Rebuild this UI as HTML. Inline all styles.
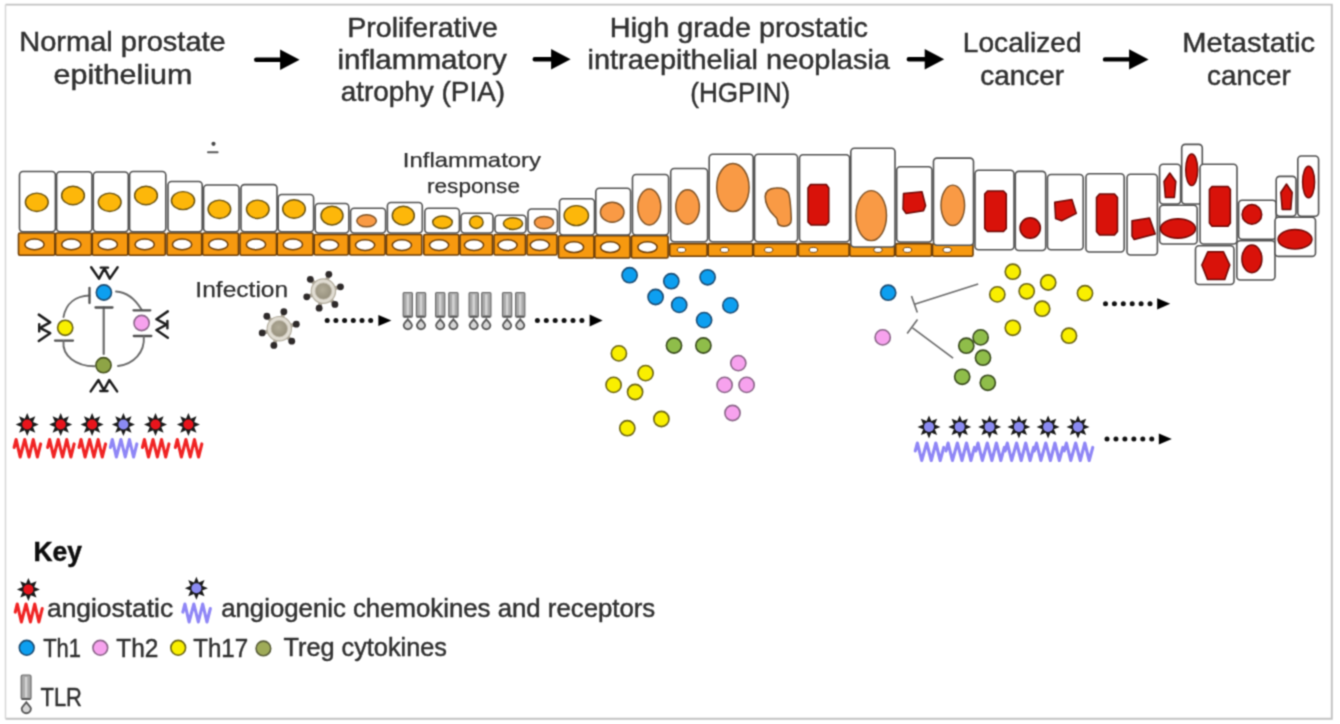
<!DOCTYPE html>
<html><head><meta charset="utf-8"><title>Prostate cancer progression and inflammation</title>
<style>
html,body{margin:0;padding:0;background:#fff;}
body{width:1340px;height:724px;overflow:hidden;}
svg{display:block;font-family:"Liberation Sans",Arial,sans-serif;}
</style></head>
<body>
<svg width="1340" height="724" viewBox="0 0 1340 724">
<defs>
<filter id="soft" x="0" y="0" width="1340" height="724" filterUnits="userSpaceOnUse" color-interpolation-filters="sRGB"><feConvolveMatrix order="3" kernelMatrix="0.04387 0.12171 0.04387 0.12171 0.33767 0.12171 0.04387 0.12171 0.04387" divisor="1" edgeMode="duplicate"/></filter>
<radialGradient id="vg" cx="0.45" cy="0.42" r="0.6"><stop offset="0" stop-color="#b2ac98"/><stop offset="1" stop-color="#958f7c"/></radialGradient>
</defs>
<g filter="url(#soft)">
<rect width="1340" height="724" fill="#fff"/>
<path d="M5.5,4.6 L1331.8,4.6 L1331.8,718.8 L5.5,718.8" fill="none" stroke="#c2c2c2" stroke-width="1.9"/>
<path d="M5.5,4.6 L5.5,718.8" fill="none" stroke="#d6d6d6" stroke-width="1.5"/>
<text x="19.18" y="51.00" font-size="27.2" fill="#303030" stroke="#303030" stroke-width="0.45" textLength="206.60" lengthAdjust="spacingAndGlyphs">Normal prostate</text>
<text x="53.58" y="84.00" font-size="27.2" fill="#303030" stroke="#303030" stroke-width="0.45" textLength="138.79" lengthAdjust="spacingAndGlyphs">epithelium</text>
<text x="347.22" y="36.50" font-size="27.2" fill="#303030" stroke="#303030" stroke-width="0.45" textLength="150.71" lengthAdjust="spacingAndGlyphs">Proliferative</text>
<text x="337.53" y="68.80" font-size="27.2" fill="#303030" stroke="#303030" stroke-width="0.45" textLength="169.38" lengthAdjust="spacingAndGlyphs">inflammatory</text>
<text x="340.78" y="101.00" font-size="27.2" fill="#303030" stroke="#303030" stroke-width="0.45" textLength="164.32" lengthAdjust="spacingAndGlyphs">atrophy (PIA)</text>
<text x="609.89" y="37.00" font-size="27.2" fill="#303030" stroke="#303030" stroke-width="0.45" textLength="258.05" lengthAdjust="spacingAndGlyphs">High grade prostatic</text>
<text x="587.57" y="68.80" font-size="27.2" fill="#303030" stroke="#303030" stroke-width="0.45" textLength="302.37" lengthAdjust="spacingAndGlyphs">intraepithelial neoplasia</text>
<text x="690.23" y="101.80" font-size="27.2" fill="#303030" stroke="#303030" stroke-width="0.45" textLength="100.01" lengthAdjust="spacingAndGlyphs">(HGPIN)</text>
<text x="962.85" y="51.90" font-size="27.2" fill="#303030" stroke="#303030" stroke-width="0.45" textLength="118.68" lengthAdjust="spacingAndGlyphs">Localized</text>
<text x="980.18" y="85.20" font-size="27.2" fill="#303030" stroke="#303030" stroke-width="0.45" textLength="83.92" lengthAdjust="spacingAndGlyphs">cancer</text>
<text x="1182.37" y="51.90" font-size="27.2" fill="#303030" stroke="#303030" stroke-width="0.45" textLength="132.62" lengthAdjust="spacingAndGlyphs">Metastatic</text>
<text x="1207.09" y="85.00" font-size="27.2" fill="#303030" stroke="#303030" stroke-width="0.45" textLength="83.61" lengthAdjust="spacingAndGlyphs">cancer</text>
<path d="M256.2,57.599999999999994 L280.1,57.599999999999994 L280.1,49.599999999999994 L299.6,59.8 L280.1,70.0 L280.1,62.0 L256.2,62.0 A2.2,2.2 0 0 1 256.2,57.599999999999994 Z" fill="#000"/>
<path d="M534.7,57.099999999999994 L551.1,57.099999999999994 L551.1,49.099999999999994 L570.6,59.3 L551.1,69.5 L551.1,61.5 L534.7,61.5 A2.2,2.2 0 0 1 534.7,57.099999999999994 Z" fill="#000"/>
<path d="M908.8000000000001,57.099999999999994 L924.7,57.099999999999994 L924.7,49.099999999999994 L944.2,59.3 L924.7,69.5 L924.7,61.5 L908.8000000000001,61.5 A2.2,2.2 0 0 1 908.8000000000001,57.099999999999994 Z" fill="#000"/>
<path d="M1105.0,57.199999999999996 L1129.1,57.199999999999996 L1129.1,49.2 L1148.6,59.4 L1129.1,69.6 L1129.1,61.6 L1105.0,61.6 A2.2,2.2 0 0 1 1105.0,57.199999999999996 Z" fill="#000"/>
<rect x="18.5" y="233.0" width="36.4" height="22.2" rx="1.5" fill="#f7990f" stroke="#6e3f08" stroke-width="1.6"/>
<ellipse cx="34.5" cy="244.4" rx="9.6" ry="5.4" fill="#fff" stroke="#6e3f08" stroke-width="1.5"/>
<rect x="55.6" y="233.0" width="35.9" height="22.2" rx="1.5" fill="#f7990f" stroke="#6e3f08" stroke-width="1.6"/>
<ellipse cx="71.3" cy="244.4" rx="9.6" ry="5.4" fill="#fff" stroke="#6e3f08" stroke-width="1.5"/>
<rect x="92.3" y="233.0" width="35.5" height="22.2" rx="1.5" fill="#f7990f" stroke="#6e3f08" stroke-width="1.6"/>
<ellipse cx="107.8" cy="244.4" rx="9.6" ry="5.4" fill="#fff" stroke="#6e3f08" stroke-width="1.5"/>
<rect x="128.6" y="233.0" width="36.7" height="22.2" rx="1.5" fill="#f7990f" stroke="#6e3f08" stroke-width="1.6"/>
<ellipse cx="144.7" cy="244.4" rx="9.6" ry="5.4" fill="#fff" stroke="#6e3f08" stroke-width="1.5"/>
<rect x="167.0" y="233.0" width="34.7" height="22.2" rx="1.5" fill="#f7990f" stroke="#6e3f08" stroke-width="1.6"/>
<ellipse cx="182.1" cy="244.4" rx="9.6" ry="5.4" fill="#fff" stroke="#6e3f08" stroke-width="1.5"/>
<rect x="202.6" y="233.0" width="35.9" height="22.2" rx="1.5" fill="#f7990f" stroke="#6e3f08" stroke-width="1.6"/>
<ellipse cx="218.3" cy="244.4" rx="9.6" ry="5.4" fill="#fff" stroke="#6e3f08" stroke-width="1.5"/>
<rect x="240.0" y="233.0" width="36.5" height="22.2" rx="1.5" fill="#f7990f" stroke="#6e3f08" stroke-width="1.6"/>
<ellipse cx="256.0" cy="244.4" rx="9.6" ry="5.4" fill="#fff" stroke="#6e3f08" stroke-width="1.5"/>
<rect x="277.2" y="233.0" width="35.9" height="22.2" rx="1.5" fill="#f7990f" stroke="#6e3f08" stroke-width="1.6"/>
<ellipse cx="292.9" cy="244.4" rx="9.6" ry="5.4" fill="#fff" stroke="#6e3f08" stroke-width="1.5"/>
<rect x="314.2" y="234.5" width="34.1" height="20.5" rx="1.5" fill="#f7990f" stroke="#6e3f08" stroke-width="1.6"/>
<ellipse cx="329.0" cy="245.1" rx="9.6" ry="5.4" fill="#fff" stroke="#6e3f08" stroke-width="1.5"/>
<rect x="349.6" y="234.5" width="35.5" height="20.5" rx="1.5" fill="#f7990f" stroke="#6e3f08" stroke-width="1.6"/>
<ellipse cx="365.1" cy="245.1" rx="9.6" ry="5.4" fill="#fff" stroke="#6e3f08" stroke-width="1.5"/>
<rect x="386.4" y="234.5" width="35.4" height="20.5" rx="1.5" fill="#f7990f" stroke="#6e3f08" stroke-width="1.6"/>
<ellipse cx="401.9" cy="245.1" rx="9.6" ry="5.4" fill="#fff" stroke="#6e3f08" stroke-width="1.5"/>
<rect x="423.8" y="234.5" width="35.1" height="20.5" rx="1.5" fill="#f7990f" stroke="#6e3f08" stroke-width="1.6"/>
<ellipse cx="439.1" cy="245.1" rx="9.6" ry="5.4" fill="#fff" stroke="#6e3f08" stroke-width="1.5"/>
<rect x="460.0" y="234.5" width="32.5" height="20.5" rx="1.5" fill="#f7990f" stroke="#6e3f08" stroke-width="1.6"/>
<ellipse cx="474.0" cy="245.1" rx="9.6" ry="5.4" fill="#fff" stroke="#6e3f08" stroke-width="1.5"/>
<rect x="494.0" y="234.5" width="31.5" height="20.5" rx="1.5" fill="#f7990f" stroke="#6e3f08" stroke-width="1.6"/>
<ellipse cx="507.5" cy="245.1" rx="9.6" ry="5.4" fill="#fff" stroke="#6e3f08" stroke-width="1.5"/>
<rect x="527.0" y="234.5" width="30.0" height="20.5" rx="1.5" fill="#f7990f" stroke="#6e3f08" stroke-width="1.6"/>
<ellipse cx="539.8" cy="245.1" rx="9.6" ry="5.4" fill="#fff" stroke="#6e3f08" stroke-width="1.5"/>
<rect x="558.5" y="235.8" width="35.5" height="22.2" rx="1.5" fill="#f7990f" stroke="#6e3f08" stroke-width="1.6"/>
<ellipse cx="574.0" cy="247.2" rx="9.6" ry="5.4" fill="#fff" stroke="#6e3f08" stroke-width="1.5"/>
<rect x="594.8" y="235.8" width="35.3" height="22.2" rx="1.5" fill="#f7990f" stroke="#6e3f08" stroke-width="1.6"/>
<ellipse cx="610.2" cy="247.2" rx="9.6" ry="5.4" fill="#fff" stroke="#6e3f08" stroke-width="1.5"/>
<rect x="631.5" y="235.8" width="36.6" height="22.2" rx="1.5" fill="#f7990f" stroke="#6e3f08" stroke-width="1.6"/>
<ellipse cx="647.5" cy="247.2" rx="9.6" ry="5.4" fill="#fff" stroke="#6e3f08" stroke-width="1.5"/>
<rect x="669.7" y="243.6" width="37.4" height="12.7" rx="1.5" fill="#f7990f" stroke="#6e3f08" stroke-width="1.6"/>
<ellipse cx="681.5" cy="249.9" rx="4.2" ry="2.5" fill="#fff" stroke="#6e3f08" stroke-width="1"/>
<rect x="708.2" y="243.6" width="44.5" height="12.7" rx="1.5" fill="#f7990f" stroke="#6e3f08" stroke-width="1.6"/>
<ellipse cx="724.5" cy="249.9" rx="4.2" ry="2.5" fill="#fff" stroke="#6e3f08" stroke-width="1"/>
<rect x="753.6" y="243.6" width="43.5" height="12.7" rx="1.5" fill="#f7990f" stroke="#6e3f08" stroke-width="1.6"/>
<ellipse cx="768.7" cy="249.9" rx="4.2" ry="2.5" fill="#fff" stroke="#6e3f08" stroke-width="1"/>
<rect x="798.5" y="243.6" width="50.6" height="12.7" rx="1.5" fill="#f7990f" stroke="#6e3f08" stroke-width="1.6"/>
<ellipse cx="813.4" cy="249.9" rx="4.2" ry="2.5" fill="#fff" stroke="#6e3f08" stroke-width="1"/>
<rect x="849.8" y="243.6" width="44.7" height="12.7" rx="1.5" fill="#f7990f" stroke="#6e3f08" stroke-width="1.6"/>
<ellipse cx="878.0" cy="249.9" rx="4.2" ry="2.5" fill="#fff" stroke="#6e3f08" stroke-width="1"/>
<rect x="895.7" y="243.6" width="35.8" height="12.7" rx="1.5" fill="#f7990f" stroke="#6e3f08" stroke-width="1.6"/>
<ellipse cx="907.4" cy="249.9" rx="4.2" ry="2.5" fill="#fff" stroke="#6e3f08" stroke-width="1"/>
<rect x="932.5" y="243.6" width="40.5" height="12.7" rx="1.5" fill="#f7990f" stroke="#6e3f08" stroke-width="1.6"/>
<ellipse cx="947.2" cy="249.9" rx="4.2" ry="2.5" fill="#fff" stroke="#6e3f08" stroke-width="1"/>
<rect x="19.5" y="171.5" width="35.9" height="60.2" rx="3.5" fill="#fff" stroke="#525252" stroke-width="1.6"/>
<ellipse cx="36.8" cy="202.3" rx="11.4" ry="9.2" fill="#fdb70a" stroke="#6a520e" stroke-width="1.45"/>
<rect x="56.6" y="171.8" width="35.4" height="59.9" rx="3.5" fill="#fff" stroke="#525252" stroke-width="1.6"/>
<ellipse cx="73.0" cy="195.5" rx="11.4" ry="9.2" fill="#fdb70a" stroke="#6a520e" stroke-width="1.45"/>
<rect x="93.3" y="172.0" width="35.0" height="59.7" rx="3.5" fill="#fff" stroke="#525252" stroke-width="1.6"/>
<ellipse cx="109.7" cy="202.3" rx="11.4" ry="9.2" fill="#fdb70a" stroke="#6a520e" stroke-width="1.45"/>
<rect x="129.6" y="171.5" width="36.2" height="60.2" rx="3.5" fill="#fff" stroke="#525252" stroke-width="1.6"/>
<ellipse cx="146.0" cy="195.5" rx="11.4" ry="9.2" fill="#fdb70a" stroke="#6a520e" stroke-width="1.45"/>
<rect x="168.0" y="181.5" width="34.2" height="50.2" rx="3.5" fill="#fff" stroke="#525252" stroke-width="1.6"/>
<ellipse cx="183.0" cy="200.6" rx="11.6" ry="9.0" fill="#fdb70a" stroke="#6a520e" stroke-width="1.45"/>
<rect x="203.6" y="185.0" width="35.4" height="46.7" rx="3.5" fill="#fff" stroke="#525252" stroke-width="1.6"/>
<ellipse cx="219.4" cy="209.3" rx="11.3" ry="9.2" fill="#fdb70a" stroke="#6a520e" stroke-width="1.45"/>
<rect x="241.0" y="184.6" width="36.0" height="47.1" rx="3.5" fill="#fff" stroke="#525252" stroke-width="1.6"/>
<ellipse cx="257.8" cy="209.3" rx="11.3" ry="9.2" fill="#fdb70a" stroke="#6a520e" stroke-width="1.45"/>
<rect x="278.2" y="194.5" width="35.4" height="37.2" rx="3.5" fill="#fff" stroke="#525252" stroke-width="1.6"/>
<ellipse cx="294.0" cy="209.0" rx="11.3" ry="9.2" fill="#fdb70a" stroke="#6a520e" stroke-width="1.45"/>
<rect x="315.2" y="203.5" width="33.6" height="29.5" rx="3.5" fill="#fff" stroke="#525252" stroke-width="1.6"/>
<ellipse cx="332.0" cy="215.6" rx="11.0" ry="9.3" fill="#fdb70a" stroke="#6a520e" stroke-width="1.45"/>
<rect x="350.6" y="208.2" width="35.0" height="24.8" rx="3.5" fill="#fff" stroke="#525252" stroke-width="1.6"/>
<ellipse cx="366.6" cy="220.8" rx="9.8" ry="6.0" fill="#f99a45" stroke="#7e5226" stroke-width="1.45"/>
<rect x="387.4" y="202.5" width="34.9" height="30.5" rx="3.5" fill="#fff" stroke="#525252" stroke-width="1.6"/>
<ellipse cx="403.3" cy="215.6" rx="11.0" ry="9.3" fill="#fdb70a" stroke="#6a520e" stroke-width="1.45"/>
<rect x="424.8" y="208.2" width="34.6" height="24.8" rx="3.5" fill="#fff" stroke="#525252" stroke-width="1.6"/>
<ellipse cx="442.5" cy="222.2" rx="9.8" ry="6.2" fill="#fdb70a" stroke="#6a520e" stroke-width="1.45"/>
<rect x="461.0" y="213.2" width="32.0" height="19.8" rx="3.5" fill="#fff" stroke="#525252" stroke-width="1.6"/>
<ellipse cx="476.3" cy="222.2" rx="6.8" ry="6.2" fill="#fdb70a" stroke="#6a520e" stroke-width="1.45"/>
<rect x="495.0" y="215.3" width="31.0" height="17.7" rx="3.5" fill="#fff" stroke="#525252" stroke-width="1.6"/>
<ellipse cx="513.0" cy="223.6" rx="9.6" ry="5.8" fill="#fdb70a" stroke="#6a520e" stroke-width="1.45"/>
<rect x="528.0" y="209.0" width="29.5" height="24.0" rx="3.5" fill="#fff" stroke="#525252" stroke-width="1.6"/>
<ellipse cx="544.0" cy="222.6" rx="9.6" ry="6.2" fill="#f99a45" stroke="#7e5226" stroke-width="1.45"/>
<rect x="559.5" y="198.7" width="35.0" height="36.3" rx="3.5" fill="#fff" stroke="#525252" stroke-width="1.6"/>
<ellipse cx="576.3" cy="215.6" rx="12.2" ry="10.0" fill="#fdb70a" stroke="#6a520e" stroke-width="1.45"/>
<rect x="595.8" y="188.3" width="34.8" height="46.7" rx="3.5" fill="#fff" stroke="#525252" stroke-width="1.6"/>
<ellipse cx="612.2" cy="212.2" rx="11.8" ry="10.0" fill="#f99a45" stroke="#7e5226" stroke-width="1.45"/>
<rect x="632.5" y="174.5" width="36.1" height="60.5" rx="3.5" fill="#fff" stroke="#525252" stroke-width="1.6"/>
<ellipse cx="649.3" cy="207.0" rx="11.5" ry="18.0" fill="#f99a45" stroke="#7e5226" stroke-width="1.45"/>
<rect x="670.7" y="168.5" width="36.9" height="73.3" rx="3.5" fill="#fff" stroke="#525252" stroke-width="1.6"/>
<ellipse cx="687.6" cy="207.0" rx="11.8" ry="17.2" fill="#f99a45" stroke="#7e5226" stroke-width="1.45"/>
<rect x="709.2" y="154.2" width="44.0" height="87.6" rx="3.5" fill="#fff" stroke="#525252" stroke-width="1.6"/>
<ellipse cx="732.9" cy="187.5" rx="16.2" ry="24.0" fill="#f99a45" stroke="#7e5226" stroke-width="1.45"/>
<rect x="754.6" y="154.2" width="43.0" height="87.6" rx="3.5" fill="#fff" stroke="#525252" stroke-width="1.6"/>
<path d="M775.8,188 C781,187.5 786,189 788.4,193 C790.5,198 791,212 791.3,219 C791.5,224 788,226.5 783.5,226.2 C780,226 777.5,224.5 777.5,221.5 C777.5,219 776.5,217.5 774.5,216 C769,211 765,203 765.2,196.5 C765.5,191 770,188.3 775.8,188 Z" fill="#f99a45" stroke="#7e5226" stroke-width="1.5" stroke-linejoin="round"/>
<rect x="799.5" y="154.7" width="50.1" height="87.1" rx="3.5" fill="#fff" stroke="#525252" stroke-width="1.6"/>
<path d="M810.5,184.5 L826.3,184.5 L828.8,188 L828.8,222 L826,225 L811,225 L808,222 L808,188 Z" fill="#d9120a" stroke="#6e0805" stroke-width="1.5" stroke-linejoin="round"/>
<rect x="850.8" y="148.3" width="44.2" height="98.7" rx="3.5" fill="#fff" stroke="#525252" stroke-width="1.6"/>
<ellipse cx="871.2" cy="215.6" rx="15.3" ry="25.0" fill="#f99a45" stroke="#7e5226" stroke-width="1.45"/>
<rect x="896.7" y="166.8" width="35.3" height="75.2" rx="3.5" fill="#fff" stroke="#525252" stroke-width="1.6"/>
<path d="M903.5,193.5 L922,191.8 L925.6,205.6 L923.5,210.8 L906,213.4 L903,209 Z" fill="#d9120a" stroke="#6e0805" stroke-width="1.5" stroke-linejoin="round"/>
<rect x="933.5" y="158.1" width="40.0" height="87.2" rx="3.5" fill="#fff" stroke="#525252" stroke-width="1.6"/>
<ellipse cx="952.8" cy="205.3" rx="11.8" ry="20.2" fill="#f99a45" stroke="#7e5226" stroke-width="1.45"/>
<rect x="975.0" y="170.2" width="39.0" height="79.5" rx="3.5" fill="#fff" stroke="#525252" stroke-width="1.6"/>
<path d="M987.5,191 L1003.5,191 L1006.3,194 L1006.3,228.5 L1003.5,231.5 L987.5,231.5 L984.7,228.5 L984.7,194 Z" fill="#d9120a" stroke="#6e0805" stroke-width="1.5" stroke-linejoin="round"/>
<rect x="1015.3" y="171.4" width="30.4" height="79.1" rx="3.5" fill="#fff" stroke="#525252" stroke-width="1.6"/>
<circle cx="1030.2" cy="228.0" r="10.2" fill="#d9120a" stroke="#6e0805" stroke-width="1.5"/>
<rect x="1047.5" y="174.5" width="35.7" height="75.2" rx="3.5" fill="#fff" stroke="#525252" stroke-width="1.6"/>
<path d="M1054.7,202.2 L1072,199.6 L1076.3,213.4 L1061.6,220.8 L1055.6,218.6 Z" fill="#d9120a" stroke="#6e0805" stroke-width="1.5" stroke-linejoin="round"/>
<rect x="1085.9" y="173.8" width="38.3" height="78.2" rx="3.5" fill="#fff" stroke="#525252" stroke-width="1.6"/>
<path d="M1099.5,194 L1114.5,194 L1117.5,197.5 L1117.5,231.5 L1114.5,235 L1099.5,235 L1096.5,231.5 L1096.5,197.5 Z" fill="#d9120a" stroke="#6e0805" stroke-width="1.5" stroke-linejoin="round"/>
<rect x="1127.0" y="174.2" width="30.4" height="80.8" rx="3.5" fill="#fff" stroke="#525252" stroke-width="1.6"/>
<path d="M1132,220.7 L1149.6,218 L1155.2,234 L1134.2,239.5 L1132,236.2 Z" fill="#d9120a" stroke="#6e0805" stroke-width="1.5" stroke-linejoin="round"/>
<rect x="1159.6" y="164.3" width="21.0" height="39.7" rx="3.5" fill="#fff" stroke="#525252" stroke-width="1.6"/>
<path d="M1169.8,173 L1175.8,181.5 L1174.4,197.5 L1165.4,197.5 L1164,181.5 Z" fill="#d9120a" stroke="#6e0805" stroke-width="1.5" stroke-linejoin="round"/>
<rect x="1181.7" y="144.4" width="20.6" height="59.6" rx="3.5" fill="#fff" stroke="#525252" stroke-width="1.6"/>
<ellipse cx="1191.7" cy="169.8" rx="6.0" ry="15.8" fill="#d9120a" stroke="#6e0805" stroke-width="1.45"/>
<rect x="1159.6" y="205.2" width="37.6" height="38.8" rx="3.5" fill="#fff" stroke="#525252" stroke-width="1.6"/>
<ellipse cx="1178.0" cy="228.5" rx="17.5" ry="9.8" fill="#d9120a" stroke="#6e0805" stroke-width="1.45"/>
<rect x="1200.0" y="164.3" width="37.0" height="79.7" rx="3.5" fill="#fff" stroke="#525252" stroke-width="1.6"/>
<path d="M1212,186.4 L1228,186.4 L1230.4,189.5 L1230.4,223 L1228,226.2 L1212,226.2 L1209.4,223 L1209.4,189.5 Z" fill="#d9120a" stroke="#6e0805" stroke-width="1.5" stroke-linejoin="round"/>
<rect x="1195.5" y="245.8" width="38.5" height="38.7" rx="3.5" fill="#fff" stroke="#525252" stroke-width="1.6"/>
<path d="M1201.8,265 L1207.8,251.8 L1223.5,251.8 L1229.8,265 L1224.8,279.6 L1207.6,279.6 Z" fill="#d9120a" stroke="#6e0805" stroke-width="1.5" stroke-linejoin="round"/>
<rect x="1238.6" y="200.2" width="37.6" height="39.1" rx="3.5" fill="#fff" stroke="#525252" stroke-width="1.6"/>
<circle cx="1251.9" cy="214.4" r="9.8" fill="#d9120a" stroke="#6e0805" stroke-width="1.5"/>
<rect x="1236.8" y="240.8" width="38.2" height="39.2" rx="3.5" fill="#fff" stroke="#525252" stroke-width="1.6"/>
<ellipse cx="1251.9" cy="258.9" rx="10.0" ry="13.8" fill="#d9120a" stroke="#6e0805" stroke-width="1.45"/>
<rect x="1276.2" y="176.4" width="19.8" height="39.8" rx="3.5" fill="#fff" stroke="#525252" stroke-width="1.6"/>
<path d="M1286.5,184 L1292.2,192.5 L1290.8,209.5 L1282.2,209.5 L1280.8,192.5 Z" fill="#d9120a" stroke="#6e0805" stroke-width="1.5" stroke-linejoin="round"/>
<rect x="1297.8" y="156.0" width="20.8" height="60.2" rx="3.5" fill="#fff" stroke="#525252" stroke-width="1.6"/>
<ellipse cx="1308.6" cy="182.0" rx="6.0" ry="15.8" fill="#d9120a" stroke="#6e0805" stroke-width="1.45"/>
<rect x="1275.0" y="217.3" width="40.5" height="39.1" rx="3.5" fill="#fff" stroke="#525252" stroke-width="1.6"/>
<ellipse cx="1295.0" cy="239.3" rx="17.0" ry="9.8" fill="#d9120a" stroke="#6e0805" stroke-width="1.45"/>
<circle cx="213.5" cy="143.8" r="2.1" fill="#4a4a4a"/><rect x="207" y="151.2" width="11.6" height="2.1" rx="1" fill="#5a5a5a"/>
<text x="402.85" y="167.40" font-size="21" fill="#303030" stroke="#303030" stroke-width="0.25" textLength="138.14" lengthAdjust="spacingAndGlyphs">Inflammatory</text>
<text x="427.02" y="192.90" font-size="21" fill="#303030" stroke="#303030" stroke-width="0.25" textLength="92.97" lengthAdjust="spacingAndGlyphs">response</text>
<g fill="none" stroke="#6a6a6a" stroke-width="1.9" stroke-linecap="round">
<path d="M103.7,307.5 L103.7,354" stroke-width="2.2"/>
<path d="M95.5,307.5 L112.5,307.5" stroke="#505050" stroke-width="2.3"/>
<path d="M63.5,317 C66,303 76,296 89.5,295.5"/>
<path d="M89.5,288 L89.5,303" stroke="#505050" stroke-width="2.3"/>
<path d="M116,291.5 C126,292 134,297 141.8,310"/>
<path d="M133.5,310.3 L150.3,310.3" stroke="#505050" stroke-width="2.3"/>
<path d="M55,340.6 L73,340.6" stroke="#505050" stroke-width="2.3"/>
<path d="M63.5,341 C62,356 76,366 94.5,366.3"/>
<path d="M133.8,336 L151.3,336" stroke="#505050" stroke-width="2.3"/>
<path d="M143.8,336.5 C145,352 134,364 118,366"/>
</g>
<circle cx="103.9" cy="292.5" r="7.6" fill="#0d9ff0" stroke="#1b4c74" stroke-width="1.6"/>
<circle cx="65.2" cy="327.8" r="7.6" fill="#f9ef00" stroke="#6c6512" stroke-width="1.6"/>
<circle cx="141.6" cy="323.0" r="7.6" fill="#f7a2ee" stroke="#8a6488" stroke-width="1.6"/>
<circle cx="103.5" cy="365.2" r="7.6" fill="#8ea446" stroke="#46521e" stroke-width="1.6"/>
<g transform="translate(104.4,273.0) rotate(0)" fill="none" stroke="#1e1e1e" stroke-width="2.5" stroke-linejoin="round" stroke-linecap="round"><path d="M-13.2,-5.8 L-5.4,5.6 L0,-4.6 L5.4,5.6 L13.2,-5.8"/><path d="M-3.6,-5.4 L3.6,-5.4" stroke-width="2.4"/></g>
<g transform="translate(103.9,385.6) rotate(180)" fill="none" stroke="#1e1e1e" stroke-width="2.5" stroke-linejoin="round" stroke-linecap="round"><path d="M-13.2,-5.8 L-5.4,5.6 L0,-4.6 L5.4,5.6 L13.2,-5.8"/><path d="M-3.6,-5.4 L3.6,-5.4" stroke-width="2.4"/></g>
<g transform="translate(44.6,327.8) rotate(-90)" fill="none" stroke="#1e1e1e" stroke-width="2.5" stroke-linejoin="round" stroke-linecap="round"><path d="M-13.2,-5.8 L-5.4,5.6 L0,-4.6 L5.4,5.6 L13.2,-5.8"/><path d="M-3.6,-5.4 L3.6,-5.4" stroke-width="2.4"/></g>
<g transform="translate(162.0,324.6) rotate(90)" fill="none" stroke="#1e1e1e" stroke-width="2.5" stroke-linejoin="round" stroke-linecap="round"><path d="M-13.2,-5.8 L-5.4,5.6 L0,-4.6 L5.4,5.6 L13.2,-5.8"/><path d="M-3.6,-5.4 L3.6,-5.4" stroke-width="2.4"/></g>
<polygon points="27.20,413.00 29.61,418.68 35.33,416.37 33.02,422.09 38.70,424.50 33.02,426.91 35.33,432.63 29.61,430.32 27.20,436.00 24.79,430.32 19.07,432.63 21.38,426.91 15.70,424.50 21.38,422.09 19.07,416.37 24.79,418.68" fill="#1a1a1a"/>
<circle cx="27.2" cy="424.5" r="5.00" fill="#e8141c"/>
<path d="M14.15,447.38 L16.15,439.50 L20.15,457.00 L24.75,439.50 L29.05,457.00 L33.25,439.50 L37.35,457.00 L40.65,443.88" fill="none" stroke="#f02424" stroke-width="3.1" stroke-linejoin="round" stroke-linecap="round"/>
<polygon points="60.70,413.00 63.11,418.68 68.83,416.37 66.52,422.09 72.20,424.50 66.52,426.91 68.83,432.63 63.11,430.32 60.70,436.00 58.29,430.32 52.57,432.63 54.88,426.91 49.20,424.50 54.88,422.09 52.57,416.37 58.29,418.68" fill="#1a1a1a"/>
<circle cx="60.7" cy="424.5" r="5.00" fill="#e8141c"/>
<path d="M47.65,447.38 L49.65,439.50 L53.65,457.00 L58.25,439.50 L62.55,457.00 L66.75,439.50 L70.85,457.00 L74.15,443.88" fill="none" stroke="#f02424" stroke-width="3.1" stroke-linejoin="round" stroke-linecap="round"/>
<polygon points="92.10,413.00 94.51,418.68 100.23,416.37 97.92,422.09 103.60,424.50 97.92,426.91 100.23,432.63 94.51,430.32 92.10,436.00 89.69,430.32 83.97,432.63 86.28,426.91 80.60,424.50 86.28,422.09 83.97,416.37 89.69,418.68" fill="#1a1a1a"/>
<circle cx="92.1" cy="424.5" r="5.00" fill="#e8141c"/>
<path d="M79.05,447.38 L81.05,439.50 L85.05,457.00 L89.65,439.50 L93.95,457.00 L98.15,439.50 L102.25,457.00 L105.55,443.88" fill="none" stroke="#f02424" stroke-width="3.1" stroke-linejoin="round" stroke-linecap="round"/>
<polygon points="123.40,413.00 125.81,418.68 131.53,416.37 129.22,422.09 134.90,424.50 129.22,426.91 131.53,432.63 125.81,430.32 123.40,436.00 120.99,430.32 115.27,432.63 117.58,426.91 111.90,424.50 117.58,422.09 115.27,416.37 120.99,418.68" fill="#1a1a1a"/>
<circle cx="123.4" cy="424.5" r="5.00" fill="#8b8bf2"/>
<path d="M110.35,447.38 L112.35,439.50 L116.35,457.00 L120.95,439.50 L125.25,457.00 L129.45,439.50 L133.55,457.00 L136.85,443.88" fill="none" stroke="#8f86f6" stroke-width="3.1" stroke-linejoin="round" stroke-linecap="round"/>
<polygon points="155.50,413.00 157.91,418.68 163.63,416.37 161.32,422.09 167.00,424.50 161.32,426.91 163.63,432.63 157.91,430.32 155.50,436.00 153.09,430.32 147.37,432.63 149.68,426.91 144.00,424.50 149.68,422.09 147.37,416.37 153.09,418.68" fill="#1a1a1a"/>
<circle cx="155.5" cy="424.5" r="5.00" fill="#e8141c"/>
<path d="M142.45,447.38 L144.45,439.50 L148.45,457.00 L153.05,439.50 L157.35,457.00 L161.55,439.50 L165.65,457.00 L168.95,443.88" fill="none" stroke="#f02424" stroke-width="3.1" stroke-linejoin="round" stroke-linecap="round"/>
<polygon points="188.40,413.00 190.81,418.68 196.53,416.37 194.22,422.09 199.90,424.50 194.22,426.91 196.53,432.63 190.81,430.32 188.40,436.00 185.99,430.32 180.27,432.63 182.58,426.91 176.90,424.50 182.58,422.09 180.27,416.37 185.99,418.68" fill="#1a1a1a"/>
<circle cx="188.4" cy="424.5" r="5.00" fill="#e8141c"/>
<path d="M175.35,447.38 L177.35,439.50 L181.35,457.00 L185.95,439.50 L190.25,457.00 L194.45,439.50 L198.55,457.00 L201.85,443.88" fill="none" stroke="#f02424" stroke-width="3.1" stroke-linejoin="round" stroke-linecap="round"/>
<text x="195.39" y="296.70" font-size="22" fill="#303030" stroke="#303030" stroke-width="0.25" textLength="92.79" lengthAdjust="spacingAndGlyphs">Infection</text>
<g>
<line x1="326.80" y1="280.64" x2="328.84" y2="274.36" stroke="#a39d90" stroke-width="3.8"/>
<circle cx="328.84" cy="274.36" r="3.4" fill="#2e2a2a"/>
<line x1="334.07" y1="288.44" x2="340.48" y2="286.84" stroke="#a39d90" stroke-width="3.8"/>
<circle cx="340.48" cy="286.84" r="3.4" fill="#2e2a2a"/>
<line x1="330.62" y1="299.40" x2="334.95" y2="304.38" stroke="#a39d90" stroke-width="3.8"/>
<circle cx="334.95" cy="304.38" r="3.4" fill="#2e2a2a"/>
<line x1="320.74" y1="301.77" x2="319.14" y2="308.18" stroke="#a39d90" stroke-width="3.8"/>
<circle cx="319.14" cy="308.18" r="3.4" fill="#2e2a2a"/>
<line x1="313.00" y1="294.68" x2="306.76" y2="296.83" stroke="#a39d90" stroke-width="3.8"/>
<circle cx="306.76" cy="296.83" r="3.4" fill="#2e2a2a"/>
<line x1="315.23" y1="283.74" x2="310.32" y2="279.32" stroke="#a39d90" stroke-width="3.8"/>
<circle cx="310.32" cy="279.32" r="3.4" fill="#2e2a2a"/>
<circle cx="323.4" cy="291.1" r="12.2" fill="#e0dcd2" stroke="#b4ae9f" stroke-width="1.2"/>
<circle cx="323.4" cy="291.1" r="8.2" fill="url(#vg)" stroke="#bfb9aa" stroke-width="0.8"/>
</g>
<g>
<line x1="282.15" y1="318.07" x2="283.86" y2="311.70" stroke="#a39d90" stroke-width="3.8"/>
<circle cx="283.86" cy="311.70" r="3.4" fill="#2e2a2a"/>
<line x1="289.93" y1="325.85" x2="296.30" y2="324.14" stroke="#a39d90" stroke-width="3.8"/>
<circle cx="296.30" cy="324.14" r="3.4" fill="#2e2a2a"/>
<line x1="287.08" y1="336.48" x2="291.75" y2="341.15" stroke="#a39d90" stroke-width="3.8"/>
<circle cx="291.75" cy="341.15" r="3.4" fill="#2e2a2a"/>
<line x1="275.90" y1="339.16" x2="273.86" y2="345.44" stroke="#a39d90" stroke-width="3.8"/>
<circle cx="273.86" cy="345.44" r="3.4" fill="#2e2a2a"/>
<line x1="268.63" y1="331.36" x2="262.22" y2="332.96" stroke="#a39d90" stroke-width="3.8"/>
<circle cx="262.22" cy="332.96" r="3.4" fill="#2e2a2a"/>
<line x1="271.52" y1="320.92" x2="266.85" y2="316.25" stroke="#a39d90" stroke-width="3.8"/>
<circle cx="266.85" cy="316.25" r="3.4" fill="#2e2a2a"/>
<circle cx="279.3" cy="328.7" r="12.2" fill="#e0dcd2" stroke="#b4ae9f" stroke-width="1.2"/>
<circle cx="279.3" cy="328.7" r="8.2" fill="url(#vg)" stroke="#bfb9aa" stroke-width="0.8"/>
</g>
<circle cx="327.20" cy="320.5" r="2.5" fill="#111"/>
<circle cx="335.90" cy="320.5" r="2.5" fill="#111"/>
<circle cx="344.60" cy="320.5" r="2.5" fill="#111"/>
<circle cx="353.30" cy="320.5" r="2.5" fill="#111"/>
<circle cx="362.00" cy="320.5" r="2.5" fill="#111"/>
<circle cx="370.70" cy="320.5" r="2.5" fill="#111"/>
<path d="M378.4,314.9 L391.4,320.5 L378.4,326.1 Z" fill="#000"/>
<rect x="403.2" y="292.5" width="9.2" height="24.6" rx="1" fill="#a9a9a9" stroke="#6a6a6a" stroke-width="1.2"/>
<rect x="406.50" y="294.5" width="2.6" height="20.6" fill="#d2d2d2"/>
<path d="M407.80,319.20 C409.40,321.60 411.90,323.60 411.90,325.10 A4.1,4.1 0 0 1 403.70,325.10 C403.70,323.60 406.20,321.60 407.80,319.20 Z" fill="#d6d6d6" stroke="#5a5a5a" stroke-width="1.9"/>
<path d="M404.00,316.50 L411.60,316.50" stroke="#555" stroke-width="1.6"/>
<rect x="416.4" y="292.5" width="9.2" height="24.6" rx="1" fill="#a9a9a9" stroke="#6a6a6a" stroke-width="1.2"/>
<rect x="419.70" y="294.5" width="2.6" height="20.6" fill="#d2d2d2"/>
<path d="M421.00,319.20 C422.60,321.60 425.10,323.60 425.10,325.10 A4.1,4.1 0 0 1 416.90,325.10 C416.90,323.60 419.40,321.60 421.00,319.20 Z" fill="#d6d6d6" stroke="#5a5a5a" stroke-width="1.9"/>
<path d="M417.20,316.50 L424.80,316.50" stroke="#555" stroke-width="1.6"/>
<rect x="435.6" y="292.5" width="9.2" height="24.6" rx="1" fill="#a9a9a9" stroke="#6a6a6a" stroke-width="1.2"/>
<rect x="438.90" y="294.5" width="2.6" height="20.6" fill="#d2d2d2"/>
<path d="M440.20,319.20 C441.80,321.60 444.30,323.60 444.30,325.10 A4.1,4.1 0 0 1 436.10,325.10 C436.10,323.60 438.60,321.60 440.20,319.20 Z" fill="#d6d6d6" stroke="#5a5a5a" stroke-width="1.9"/>
<path d="M436.40,316.50 L444.00,316.50" stroke="#555" stroke-width="1.6"/>
<rect x="448.8" y="292.5" width="9.2" height="24.6" rx="1" fill="#a9a9a9" stroke="#6a6a6a" stroke-width="1.2"/>
<rect x="452.10" y="294.5" width="2.6" height="20.6" fill="#d2d2d2"/>
<path d="M453.40,319.20 C455.00,321.60 457.50,323.60 457.50,325.10 A4.1,4.1 0 0 1 449.30,325.10 C449.30,323.60 451.80,321.60 453.40,319.20 Z" fill="#d6d6d6" stroke="#5a5a5a" stroke-width="1.9"/>
<path d="M449.60,316.50 L457.20,316.50" stroke="#555" stroke-width="1.6"/>
<rect x="469.1" y="292.5" width="9.2" height="24.6" rx="1" fill="#a9a9a9" stroke="#6a6a6a" stroke-width="1.2"/>
<rect x="472.40" y="294.5" width="2.6" height="20.6" fill="#d2d2d2"/>
<path d="M473.70,319.20 C475.30,321.60 477.80,323.60 477.80,325.10 A4.1,4.1 0 0 1 469.60,325.10 C469.60,323.60 472.10,321.60 473.70,319.20 Z" fill="#d6d6d6" stroke="#5a5a5a" stroke-width="1.9"/>
<path d="M469.90,316.50 L477.50,316.50" stroke="#555" stroke-width="1.6"/>
<rect x="481.7" y="292.5" width="9.2" height="24.6" rx="1" fill="#a9a9a9" stroke="#6a6a6a" stroke-width="1.2"/>
<rect x="485.00" y="294.5" width="2.6" height="20.6" fill="#d2d2d2"/>
<path d="M486.30,319.20 C487.90,321.60 490.40,323.60 490.40,325.10 A4.1,4.1 0 0 1 482.20,325.10 C482.20,323.60 484.70,321.60 486.30,319.20 Z" fill="#d6d6d6" stroke="#5a5a5a" stroke-width="1.9"/>
<path d="M482.50,316.50 L490.10,316.50" stroke="#555" stroke-width="1.6"/>
<rect x="502.5" y="292.5" width="9.2" height="24.6" rx="1" fill="#a9a9a9" stroke="#6a6a6a" stroke-width="1.2"/>
<rect x="505.80" y="294.5" width="2.6" height="20.6" fill="#d2d2d2"/>
<path d="M507.10,319.20 C508.70,321.60 511.20,323.60 511.20,325.10 A4.1,4.1 0 0 1 503.00,325.10 C503.00,323.60 505.50,321.60 507.10,319.20 Z" fill="#d6d6d6" stroke="#5a5a5a" stroke-width="1.9"/>
<path d="M503.30,316.50 L510.90,316.50" stroke="#555" stroke-width="1.6"/>
<rect x="515.6" y="292.5" width="9.2" height="24.6" rx="1" fill="#a9a9a9" stroke="#6a6a6a" stroke-width="1.2"/>
<rect x="518.90" y="294.5" width="2.6" height="20.6" fill="#d2d2d2"/>
<path d="M520.20,319.20 C521.80,321.60 524.30,323.60 524.30,325.10 A4.1,4.1 0 0 1 516.10,325.10 C516.10,323.60 518.60,321.60 520.20,319.20 Z" fill="#d6d6d6" stroke="#5a5a5a" stroke-width="1.9"/>
<path d="M516.40,316.50 L524.00,316.50" stroke="#555" stroke-width="1.6"/>
<circle cx="537.40" cy="320.5" r="2.5" fill="#111"/>
<circle cx="546.30" cy="320.5" r="2.5" fill="#111"/>
<circle cx="555.20" cy="320.5" r="2.5" fill="#111"/>
<circle cx="564.10" cy="320.5" r="2.5" fill="#111"/>
<circle cx="573.00" cy="320.5" r="2.5" fill="#111"/>
<circle cx="581.90" cy="320.5" r="2.5" fill="#111"/>
<path d="M589.6,314.5 L602.6,320.5 L589.6,326.5 Z" fill="#000"/>
<circle cx="629.6" cy="275.2" r="7.6" fill="#0d9ff0" stroke="#1b4c74" stroke-width="1.6"/>
<circle cx="671.3" cy="281.2" r="7.6" fill="#0d9ff0" stroke="#1b4c74" stroke-width="1.6"/>
<circle cx="707.6" cy="277.3" r="7.6" fill="#0d9ff0" stroke="#1b4c74" stroke-width="1.6"/>
<circle cx="655.6" cy="297" r="7.6" fill="#0d9ff0" stroke="#1b4c74" stroke-width="1.6"/>
<circle cx="679.2" cy="304.9" r="7.6" fill="#0d9ff0" stroke="#1b4c74" stroke-width="1.6"/>
<circle cx="730.4" cy="305.4" r="7.6" fill="#0d9ff0" stroke="#1b4c74" stroke-width="1.6"/>
<circle cx="704.1" cy="320.1" r="7.6" fill="#0d9ff0" stroke="#1b4c74" stroke-width="1.6"/>
<circle cx="674" cy="345.5" r="7.6" fill="#8fbd4a" stroke="#3a4c1e" stroke-width="1.6"/>
<circle cx="703.4" cy="345.5" r="7.6" fill="#8fbd4a" stroke="#3a4c1e" stroke-width="1.6"/>
<circle cx="618.9" cy="353.4" r="7.6" fill="#f9ef00" stroke="#6c6512" stroke-width="1.6"/>
<circle cx="645.6" cy="373.1" r="7.6" fill="#f9ef00" stroke="#6c6512" stroke-width="1.6"/>
<circle cx="613.6" cy="384.9" r="7.6" fill="#f9ef00" stroke="#6c6512" stroke-width="1.6"/>
<circle cx="635.1" cy="392" r="7.6" fill="#f9ef00" stroke="#6c6512" stroke-width="1.6"/>
<circle cx="661.4" cy="419" r="7.6" fill="#f9ef00" stroke="#6c6512" stroke-width="1.6"/>
<circle cx="627.3" cy="428.2" r="7.6" fill="#f9ef00" stroke="#6c6512" stroke-width="1.6"/>
<circle cx="738.3" cy="363.1" r="7.6" fill="#f7a2ee" stroke="#8a6488" stroke-width="1.6"/>
<circle cx="724.6" cy="384.9" r="7.6" fill="#f7a2ee" stroke="#8a6488" stroke-width="1.6"/>
<circle cx="746.6" cy="384.9" r="7.6" fill="#f7a2ee" stroke="#8a6488" stroke-width="1.6"/>
<circle cx="732.5" cy="413" r="7.6" fill="#f7a2ee" stroke="#8a6488" stroke-width="1.6"/>
<circle cx="888.2" cy="292.7" r="7.6" fill="#0d9ff0" stroke="#1b4c74" stroke-width="1.6"/>
<circle cx="882.7" cy="337.4" r="7.6" fill="#f7a2ee" stroke="#8a6488" stroke-width="1.6"/>
<g stroke="#6a6a6a" stroke-width="1.6" fill="none">
<path d="M978.2,284.1 L914.5,304.2"/><path d="M911.5,296 L917.3,312.4"/>
<path d="M953.1,358.2 L912.5,327.8"/><path d="M917.5,319.5 L907.2,333.5"/>
</g>
<circle cx="1012.8" cy="271.7" r="7.6" fill="#f9ef00" stroke="#6c6512" stroke-width="1.6"/>
<circle cx="1048.2" cy="282.5" r="7.6" fill="#f9ef00" stroke="#6c6512" stroke-width="1.6"/>
<circle cx="997.3" cy="294.4" r="7.6" fill="#f9ef00" stroke="#6c6512" stroke-width="1.6"/>
<circle cx="1026.7" cy="291.3" r="7.6" fill="#f9ef00" stroke="#6c6512" stroke-width="1.6"/>
<circle cx="1085" cy="293.2" r="7.6" fill="#f9ef00" stroke="#6c6512" stroke-width="1.6"/>
<circle cx="1042.2" cy="308.7" r="7.6" fill="#f9ef00" stroke="#6c6512" stroke-width="1.6"/>
<circle cx="1012.8" cy="327.8" r="7.6" fill="#f9ef00" stroke="#6c6512" stroke-width="1.6"/>
<circle cx="1069" cy="335.7" r="7.6" fill="#f9ef00" stroke="#6c6512" stroke-width="1.6"/>
<circle cx="980.6" cy="337.4" r="7.6" fill="#8fbd4a" stroke="#3a4c1e" stroke-width="1.6"/>
<circle cx="966.3" cy="345.7" r="7.6" fill="#8fbd4a" stroke="#3a4c1e" stroke-width="1.6"/>
<circle cx="983" cy="357.7" r="7.6" fill="#8fbd4a" stroke="#3a4c1e" stroke-width="1.6"/>
<circle cx="962.2" cy="376.8" r="7.6" fill="#8fbd4a" stroke="#3a4c1e" stroke-width="1.6"/>
<circle cx="987.8" cy="382.8" r="7.6" fill="#8fbd4a" stroke="#3a4c1e" stroke-width="1.6"/>
<circle cx="1105.50" cy="303.8" r="2.5" fill="#111"/>
<circle cx="1114.40" cy="303.8" r="2.5" fill="#111"/>
<circle cx="1123.30" cy="303.8" r="2.5" fill="#111"/>
<circle cx="1132.20" cy="303.8" r="2.5" fill="#111"/>
<circle cx="1141.10" cy="303.8" r="2.5" fill="#111"/>
<circle cx="1150.00" cy="303.8" r="2.5" fill="#111"/>
<path d="M1157.2,298.2 L1170.2,303.8 L1157.2,309.40000000000003 Z" fill="#000"/>
<polygon points="929.00,415.40 931.41,421.08 937.13,418.77 934.82,424.49 940.50,426.90 934.82,429.31 937.13,435.03 931.41,432.72 929.00,438.40 926.59,432.72 920.87,435.03 923.18,429.31 917.50,426.90 923.18,424.49 920.87,418.77 926.59,421.08" fill="#1a1a1a"/>
<circle cx="929" cy="426.9" r="5.00" fill="#8b8bf2"/>
<path d="M915.27,450.88 L917.42,443.00 L921.72,460.50 L926.67,443.00 L931.29,460.50 L935.81,443.00 L940.22,460.50 L943.77,447.38" fill="none" stroke="#8f86f6" stroke-width="3.1" stroke-linejoin="round" stroke-linecap="round"/>
<polygon points="959.70,415.40 962.11,421.08 967.83,418.77 965.52,424.49 971.20,426.90 965.52,429.31 967.83,435.03 962.11,432.72 959.70,438.40 957.29,432.72 951.57,435.03 953.88,429.31 948.20,426.90 953.88,424.49 951.57,418.77 957.29,421.08" fill="#1a1a1a"/>
<circle cx="959.7" cy="426.9" r="5.00" fill="#8b8bf2"/>
<path d="M945.97,450.88 L948.12,443.00 L952.42,460.50 L957.37,443.00 L961.99,460.50 L966.51,443.00 L970.92,460.50 L974.47,447.38" fill="none" stroke="#8f86f6" stroke-width="3.1" stroke-linejoin="round" stroke-linecap="round"/>
<polygon points="989.60,415.40 992.01,421.08 997.73,418.77 995.42,424.49 1001.10,426.90 995.42,429.31 997.73,435.03 992.01,432.72 989.60,438.40 987.19,432.72 981.47,435.03 983.78,429.31 978.10,426.90 983.78,424.49 981.47,418.77 987.19,421.08" fill="#1a1a1a"/>
<circle cx="989.6" cy="426.9" r="5.00" fill="#8b8bf2"/>
<path d="M975.87,450.88 L978.02,443.00 L982.32,460.50 L987.27,443.00 L991.89,460.50 L996.41,443.00 L1000.82,460.50 L1004.37,447.38" fill="none" stroke="#8f86f6" stroke-width="3.1" stroke-linejoin="round" stroke-linecap="round"/>
<polygon points="1018.90,415.40 1021.31,421.08 1027.03,418.77 1024.72,424.49 1030.40,426.90 1024.72,429.31 1027.03,435.03 1021.31,432.72 1018.90,438.40 1016.49,432.72 1010.77,435.03 1013.08,429.31 1007.40,426.90 1013.08,424.49 1010.77,418.77 1016.49,421.08" fill="#1a1a1a"/>
<circle cx="1018.9" cy="426.9" r="5.00" fill="#8b8bf2"/>
<path d="M1005.17,450.88 L1007.32,443.00 L1011.62,460.50 L1016.57,443.00 L1021.19,460.50 L1025.71,443.00 L1030.12,460.50 L1033.67,447.38" fill="none" stroke="#8f86f6" stroke-width="3.1" stroke-linejoin="round" stroke-linecap="round"/>
<polygon points="1048.10,415.40 1050.51,421.08 1056.23,418.77 1053.92,424.49 1059.60,426.90 1053.92,429.31 1056.23,435.03 1050.51,432.72 1048.10,438.40 1045.69,432.72 1039.97,435.03 1042.28,429.31 1036.60,426.90 1042.28,424.49 1039.97,418.77 1045.69,421.08" fill="#1a1a1a"/>
<circle cx="1048.1" cy="426.9" r="5.00" fill="#8b8bf2"/>
<path d="M1034.37,450.88 L1036.52,443.00 L1040.82,460.50 L1045.77,443.00 L1050.39,460.50 L1054.91,443.00 L1059.32,460.50 L1062.87,447.38" fill="none" stroke="#8f86f6" stroke-width="3.1" stroke-linejoin="round" stroke-linecap="round"/>
<polygon points="1078.00,415.40 1080.41,421.08 1086.13,418.77 1083.82,424.49 1089.50,426.90 1083.82,429.31 1086.13,435.03 1080.41,432.72 1078.00,438.40 1075.59,432.72 1069.87,435.03 1072.18,429.31 1066.50,426.90 1072.18,424.49 1069.87,418.77 1075.59,421.08" fill="#1a1a1a"/>
<circle cx="1078" cy="426.9" r="5.00" fill="#8b8bf2"/>
<path d="M1064.27,450.88 L1066.42,443.00 L1070.72,460.50 L1075.67,443.00 L1080.29,460.50 L1084.81,443.00 L1089.22,460.50 L1092.77,447.38" fill="none" stroke="#8f86f6" stroke-width="3.1" stroke-linejoin="round" stroke-linecap="round"/>
<circle cx="1107.00" cy="439.0" r="2.5" fill="#111"/>
<circle cx="1115.95" cy="439.0" r="2.5" fill="#111"/>
<circle cx="1124.90" cy="439.0" r="2.5" fill="#111"/>
<circle cx="1133.85" cy="439.0" r="2.5" fill="#111"/>
<circle cx="1142.80" cy="439.0" r="2.5" fill="#111"/>
<circle cx="1151.75" cy="439.0" r="2.5" fill="#111"/>
<path d="M1158.8,433.4 L1171.8,439.0 L1158.8,444.6 Z" fill="#000"/>
<text x="33.55" y="561.00" font-size="27" font-weight="700" fill="#0d0d0d" stroke="#0d0d0d" stroke-width="0.45" textLength="48.36" lengthAdjust="spacingAndGlyphs">Key</text>
<polygon points="28.40,577.90 30.81,583.58 36.53,581.27 34.22,586.99 39.90,589.40 34.22,591.81 36.53,597.53 30.81,595.22 28.40,600.90 25.99,595.22 20.27,597.53 22.58,591.81 16.90,589.40 22.58,586.99 20.27,581.27 25.99,583.58" fill="#1a1a1a"/>
<circle cx="28.4" cy="589.4" r="5.00" fill="#e8141c"/>
<path d="M15.25,612.10 L17.29,604.00 L21.37,622.00 L26.05,604.00 L30.44,622.00 L34.72,604.00 L38.89,622.00 L42.25,608.50" fill="none" stroke="#f02424" stroke-width="3.1" stroke-linejoin="round" stroke-linecap="round"/>
<text x="46.94" y="617.30" font-size="25.5" fill="#303030" stroke="#303030" stroke-width="0.45" textLength="126.27" lengthAdjust="spacingAndGlyphs">angiostatic</text>
<polygon points="196.40,576.70 198.81,582.38 204.53,580.07 202.22,585.79 207.90,588.20 202.22,590.61 204.53,596.33 198.81,594.02 196.40,599.70 193.99,594.02 188.27,596.33 190.58,590.61 184.90,588.20 190.58,585.79 188.27,580.07 193.99,582.38" fill="#1a1a1a"/>
<circle cx="196.4" cy="588.2" r="5.00" fill="#8b8bf2"/>
<path d="M182.86,612.10 L184.93,604.00 L189.09,622.00 L193.86,604.00 L198.32,622.00 L202.68,604.00 L206.93,622.00 L210.36,608.50" fill="none" stroke="#8f86f6" stroke-width="3.1" stroke-linejoin="round" stroke-linecap="round"/>
<text x="221.17" y="616.50" font-size="25.5" fill="#303030" stroke="#303030" stroke-width="0.45" textLength="434.10" lengthAdjust="spacingAndGlyphs">angiogenic chemokines and receptors</text>
<circle cx="26.7" cy="647.8" r="7.4" fill="#0d9ff0" stroke="#1b4c74" stroke-width="1.6"/>
<text x="43.16" y="657.20" font-size="25.5" fill="#303030" stroke="#303030" stroke-width="0.45" textLength="37.81" lengthAdjust="spacingAndGlyphs">Th1</text>
<circle cx="100.3" cy="647.8" r="7.4" fill="#f7a2ee" stroke="#8a6488" stroke-width="1.6"/>
<text x="116.31" y="657.20" font-size="25.5" fill="#303030" stroke="#303030" stroke-width="0.45" textLength="42.09" lengthAdjust="spacingAndGlyphs">Th2</text>
<circle cx="178.2" cy="647.8" r="7.4" fill="#f9ef00" stroke="#6c6512" stroke-width="1.6"/>
<text x="193.22" y="657.20" font-size="25.5" fill="#303030" stroke="#303030" stroke-width="0.45" textLength="54.97" lengthAdjust="spacingAndGlyphs">Th17</text>
<circle cx="263.4" cy="648.4" r="7.3" fill="#9fab58" stroke="#585c38" stroke-width="1.6"/>
<text x="283.49" y="655.60" font-size="25.5" fill="#303030" stroke="#303030" stroke-width="0.45" textLength="163.40" lengthAdjust="spacingAndGlyphs">Treg cytokines</text>
<rect x="21.2" y="675" width="9.8" height="24.5" rx="1.5" fill="#a9a9a9" stroke="#6a6a6a" stroke-width="1.2"/>
<rect x="24.8" y="677" width="2.6" height="20.5" fill="#d2d2d2"/>
<path d="M26.30,702.20 C27.90,704.60 30.90,707.10 30.90,708.60 A4.6,4.6 0 0 1 21.70,708.60 C21.70,707.10 24.70,704.60 26.30,702.20 Z" fill="#d6d6d6" stroke="#5a5a5a" stroke-width="1.9"/>
<path d="M22,699 L30.2,699" stroke="#555" stroke-width="1.8"/>
<text x="40.46" y="706.00" font-size="25.5" fill="#303030" stroke="#303030" stroke-width="0.45" textLength="41.52" lengthAdjust="spacingAndGlyphs">TLR</text>
</g>
</svg>
</body></html>
